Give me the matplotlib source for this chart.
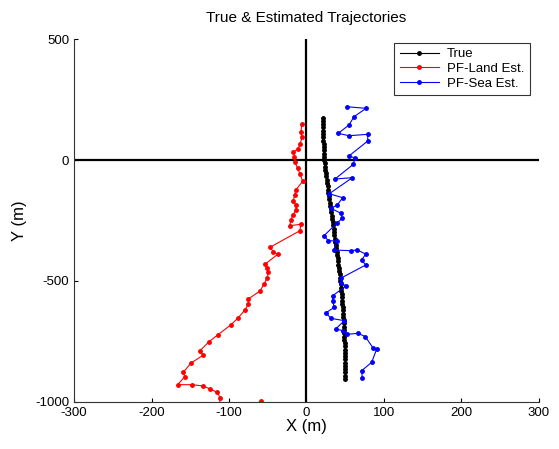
import numpy as np
import matplotlib.pyplot as plt

plt.rcParams['font.family'] = ['Liberation Sans', 'DejaVu Sans']
plt.rcParams['axes.unicode_minus'] = False

# true trajectory
true_x = [21.5, 21.5, 21.6, 21.6, 21.7, 21.7, 21.8, 21.9, 22.0, 22.1, 22.3, 22.5, 22.8, 23.1,
          23.5, 24.0, 24.5, 25.0, 25.6, 26.2, 26.7, 27.3, 27.8, 28.3, 28.9, 29.5, 30.1, 30.7,
          31.3, 31.9, 32.5, 33.1, 33.7, 34.3, 34.9, 35.5, 36.1, 36.7, 37.3, 37.9, 38.5, 39.0,
          39.5, 40.1, 40.6, 41.2, 41.7, 42.2, 42.7, 43.2, 43.7, 44.1, 44.5, 44.9, 45.3, 45.7,
          46.0, 46.4, 46.7, 47.0, 47.3, 47.6, 47.8, 48.1, 48.3, 48.5, 48.7, 48.9, 49.0, 49.2,
          49.3, 49.4, 49.5, 49.6, 49.7, 49.8, 49.8, 49.9, 49.9, 50.0, 50.0]
true_y = [175, 161.5, 148, 134.5, 121, 107.5, 94, 80.5, 67, 53.5, 40, 26.5, 13, -0.5,
          -14, -27.5, -41, -54.5, -68, -81.5, -95, -108.5, -122, -135.5, -149, -162.5, -176, -189.5,
          -203, -216.5, -230, -243.5, -257, -270.5, -284, -297.5, -311, -324.5, -338, -351.5, -365, -378.5,
          -392, -405.5, -419, -432.5, -446, -459.5, -473, -486.5, -500, -513.5, -527, -540.5, -554, -567.5,
          -581, -594.5, -608, -621.5, -635, -648.5, -662, -675.5, -689, -702.5, -716, -729.5, -743, -756.5,
          -770, -783.5, -797, -810.5, -824, -837.5, -851, -864.5, -878, -891.5, -905]

# PF-Land estimate
land_x = [-6.2, -7.1, -5.8, -8.4, -11.4, -17.0, -15.7, -14.8, -11.4, -8.4, -4.9, -13.9, -15.2, -17.0,
          -13.9, -13.2, -17.8, -20.0, -21.7, -7.5, -8.4, -47.1, -42.8, -37.2, -53.2, -51.0, -49.3, -50.6,
          -54.8, -60.0, -75.1, -75.1, -79.4, -88.0, -97.8, -114.2, -125.8, -137.4, -133.5, -149.4, -159.0,
          -157.2, -166.2, -147.4, -133.2, -124.5, -115.1, -111.6, -112.0, -85.0, -59.0, -45.0]
land_y = [148.8, 114.5, 93.8, 64.9, 44.2, 34.3, 13.6, -9.5, -34.3, -57.9, -88.0, -124.0, -144.6, -168.2,
          -186.0, -206.6, -227.3, -247.9, -271.5, -265.7, -292.1, -360.7, -378.9, -389.7, -429.8, -447.5, -464.0, -486.4,
          -512.4, -541.3, -574.4, -595.0, -619.8, -651.7, -681.8, -721.9, -750.8, -788.0, -807.0, -840.0, -877.3,
          -895.5, -928.5, -928.5, -933.9, -946.3, -960.0, -982.2, -1012.0, -1040.0, -997.0, -1030.0]

# PF-Sea estimate
sea_x = [51.9, 76.8, 61.3, 54.8, 41.0, 54.8, 79.0, 79.0, 55.2, 62.6, 60.4, 36.8, 59.1, 29.4,
         46.7, 39.7, 31.6, 44.5, 46.2, 39.0, 22.6, 28.1, 39.0, 35.5, 57.0, 65.5, 76.4, 71.2,
         76.4, 44.1, 44.1, 51.0, 33.8, 33.8, 35.9, 25.2, 31.2, 48.8, 37.7, 47.5, 52.6, 66.8,
         75.9, 86.2, 90.6, 84.1, 71.2, 72.0]
sea_y = [220.2, 213.6, 178.9, 144.6, 110.3, 100.4, 106.2, 78.5, 17.8, 7.0, -17.8, -78.5, -73.1, -139.3,
         -155.8, -186.0, -199.6, -220.2, -240.9, -261.6, -312.8, -333.5, -334.7, -371.9, -374.8, -371.9, -388.4, -413.2,
         -433.9, -488.8, -507.0, -520.7, -560.7, -582.6, -608.7, -631.0, -654.1, -664.0, -698.3, -705.4, -720.2, -716.1,
         -730.2, -778.1, -781.0, -836.0, -870.7, -899.6]

fig = plt.figure(figsize=(5.59, 4.49), dpi=100)
ax = fig.add_axes([0.1324, 0.1047, 0.8318, 0.8084])

ax.axhline(0, color='black', linewidth=1.6, zorder=1)
ax.axvline(0, color='black', linewidth=1.6, zorder=1)

ax.plot(true_x, true_y, '.-', color='black', markersize=5, linewidth=0.8, label='True')
ax.plot(land_x, land_y, '.-', color='red', markersize=5, linewidth=0.8, label='PF-Land Est.')
ax.plot(sea_x, sea_y, '.-', color='blue', markersize=5, linewidth=0.8, label='PF-Sea Est.')

ax.set_xlim(-300, 300)
ax.set_ylim(-1000, 500)
ax.set_xticks([-300, -200, -100, 0, 100, 200, 300])
ax.set_yticks([-1000, -500, 0, 500])
ax.tick_params(direction='in', length=3, labelsize=9.5, width=0.8)
for s in ['top', 'right']:
    ax.spines[s].set_visible(False)
for s in ['left', 'bottom']:
    ax.spines[s].set_linewidth(0.8)
    ax.spines[s].set_color('#333333')

ax.set_title("True & Estimated Trajectories", fontsize=11, pad=12)
ax.set_xlabel("X (m)", fontsize=12, labelpad=0)
ax.set_ylabel("Y (m)", fontsize=12, labelpad=6)

leg = ax.legend(loc='upper right', bbox_to_anchor=(0.98, 0.99), fontsize=9.5,
                frameon=True, fancybox=False, edgecolor='black', borderaxespad=0,
                handlelength=3.0, handletextpad=0.6, labelspacing=0.2, borderpad=0.4)
leg.get_frame().set_linewidth(0.8)

fig.savefig('out.png', dpi=100)
